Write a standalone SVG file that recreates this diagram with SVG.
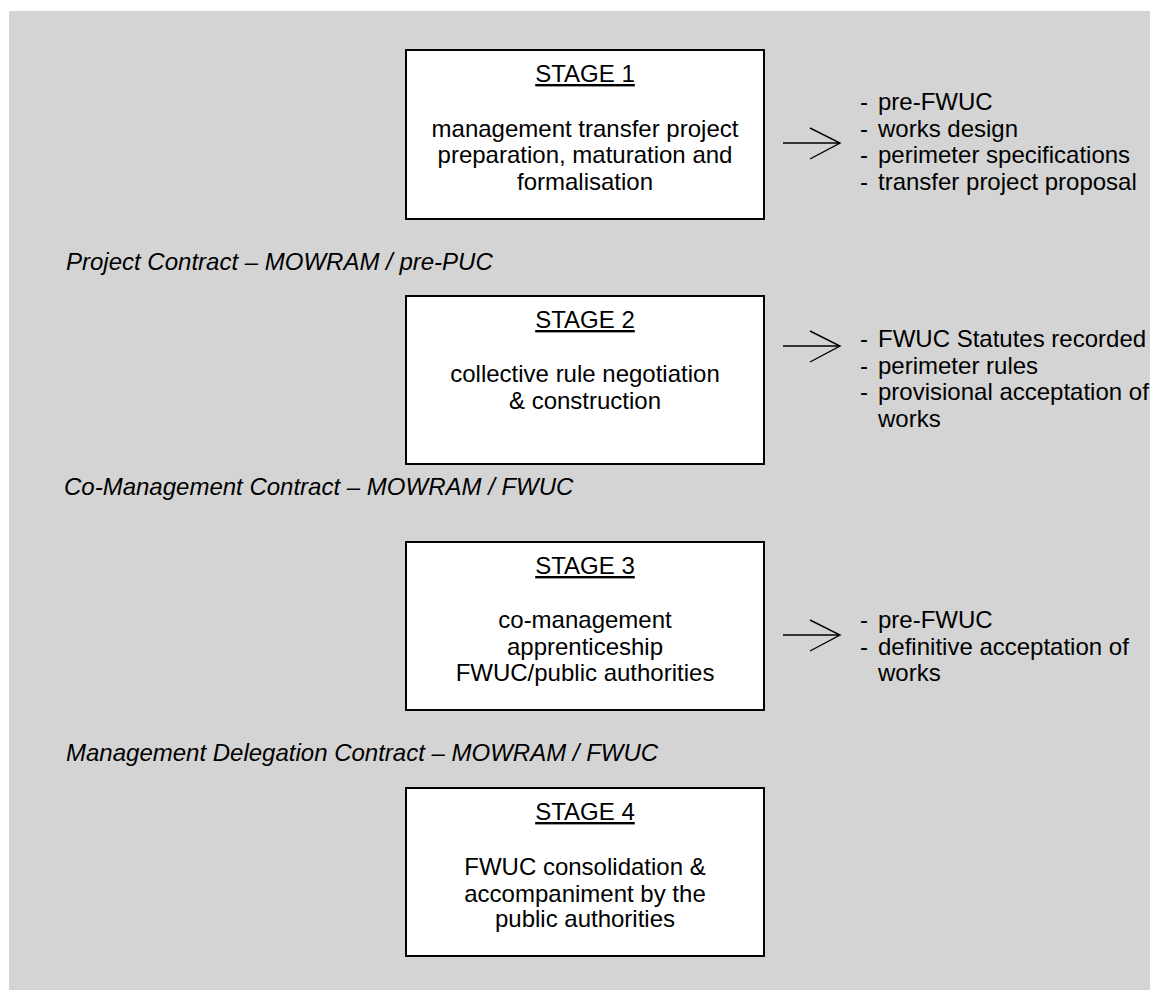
<svg xmlns="http://www.w3.org/2000/svg" width="1150" height="990" viewBox="0 0 1150 990">
  <style>
    .bg { fill: #d4d4d4; }
    .box { fill: #ffffff; stroke: #000000; stroke-width: 2; }
    .txt { font-family: "Liberation Sans", Arial, sans-serif; font-size: 24px; fill: #000000; }
    .mid { text-anchor: middle; }
    .title { text-decoration: underline; }
    .contract { font-style: italic; }
    .arrow { fill: none; stroke: #000000; stroke-width: 1.4; }
  </style>

  <!-- page background -->
  <rect class="bg" x="9" y="11" width="1141" height="979"/>

  <!-- stage boxes -->
  <g id="stage1">
    <rect class="box" x="406" y="50" width="358" height="169"/>
    <text class="txt mid title" x="585" y="82">STAGE 1</text>
    <text class="txt mid" x="585" y="136.5">management transfer project</text>
    <text class="txt mid" x="585" y="163">preparation, maturation and</text>
    <text class="txt mid" x="585" y="189.5">formalisation</text>
  </g>

  <g id="stage2">
    <rect class="box" x="406" y="296" width="358" height="168"/>
    <text class="txt mid title" x="585" y="328">STAGE 2</text>
    <text class="txt mid" x="585" y="382">collective rule negotiation</text>
    <text class="txt mid" x="585" y="408.5">&amp; construction</text>
  </g>

  <g id="stage3">
    <rect class="box" x="406" y="542" width="358" height="168"/>
    <text class="txt mid title" x="585" y="574">STAGE 3</text>
    <text class="txt mid" x="585" y="628">co-management</text>
    <text class="txt mid" x="585" y="654.5">apprenticeship</text>
    <text class="txt mid" x="585" y="681">FWUC/public authorities</text>
  </g>

  <g id="stage4">
    <rect class="box" x="406" y="788" width="358" height="168"/>
    <text class="txt mid title" x="585" y="820">STAGE 4</text>
    <text class="txt mid" x="585" y="875">FWUC consolidation &amp;</text>
    <text class="txt mid" x="585" y="901.5">accompaniment by the</text>
    <text class="txt mid" x="585" y="927">public authorities</text>
  </g>

  <!-- contract labels between stages -->
  <g id="contract1">
    <text class="txt contract" x="66" y="270">Project Contract – MOWRAM / pre-PUC</text>
  </g>
  <g id="contract2">
    <text class="txt contract" x="64" y="495">Co-Management Contract – MOWRAM / FWUC</text>
  </g>
  <g id="contract3">
    <text class="txt contract" x="66" y="761">Management Delegation Contract – MOWRAM / FWUC</text>
  </g>

  <!-- outputs of each stage -->
  <g id="outputs1">
    <text class="txt" x="860" y="110">-</text><text class="txt" x="878" y="110">pre-FWUC</text>
    <text class="txt" x="860" y="136.5">-</text><text class="txt" x="878" y="136.5">works design</text>
    <text class="txt" x="860" y="163">-</text><text class="txt" x="878" y="163">perimeter specifications</text>
    <text class="txt" x="860" y="189.5">-</text><text class="txt" x="878" y="189.5">transfer project proposal</text>
  </g>
  <g id="outputs2">
    <text class="txt" x="860" y="347">-</text><text class="txt" x="878" y="347">FWUC Statutes recorded</text>
    <text class="txt" x="860" y="373.5">-</text><text class="txt" x="878" y="373.5">perimeter rules</text>
    <text class="txt" x="860" y="400">-</text><text class="txt" x="878" y="400">provisional acceptation of</text>
    <text class="txt" x="878" y="426.5">works</text>
  </g>
  <g id="outputs3">
    <text class="txt" x="860" y="628">-</text><text class="txt" x="878" y="628">pre-FWUC</text>
    <text class="txt" x="860" y="654.5">-</text><text class="txt" x="878" y="654.5">definitive acceptation of</text>
    <text class="txt" x="878" y="681">works</text>
  </g>

  <!-- connectors: open arrows from stages to their outputs -->
  <g id="connectors">
    <path class="arrow" d="M783 143 H840 M810 128 L840 143 L810 159"/>
    <path class="arrow" d="M783 346 H840 M810 331 L840 346 L810 362"/>
    <path class="arrow" d="M783 635 H840 M810 620 L840 635 L810 651"/>
  </g>
</svg>
